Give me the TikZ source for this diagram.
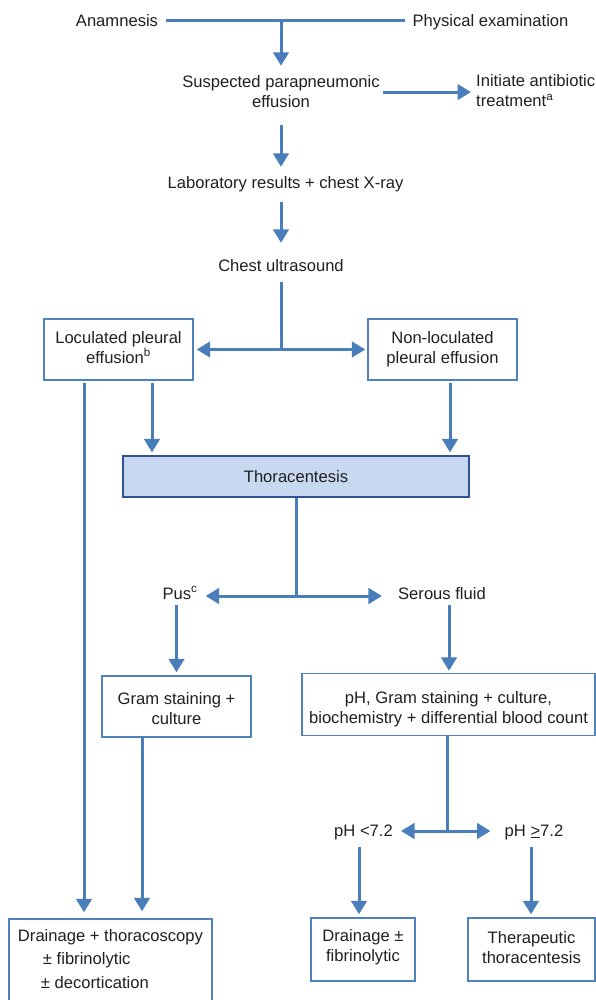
\documentclass[tikz,border=0pt]{standalone}
\usepackage{fontspec}
\setmainfont{Liberation Sans}
\usetikzlibrary{arrows.meta,calc}
\definecolor{lineblue}{RGB}{74,126,187}
\definecolor{boxblue}{RGB}{79,129,189}
\definecolor{thfill}{RGB}{198,217,240}
\definecolor{thdraw}{RGB}{50,80,150}
\definecolor{txtcol}{RGB}{35,31,32}
\newcommand{\TopS}[1]{\rule{0pt}{#1pt}}
\newcommand{\BotS}[1]{\rule[-#1pt]{0pt}{#1pt}}
\begin{document}
\begin{tikzpicture}[x=1pt,y=-1pt,
  lbl/.style={font=\fontsize{16.6pt}{20pt}\selectfont, text=txtcol, inner sep=0pt, text height=12pt, text depth=0pt},
  mlbl/.style={font=\fontsize{16.6pt}{20pt}\selectfont, text=txtcol, inner sep=0pt, align=center},
  box/.style={draw=boxblue, line width=1.4pt, font=\fontsize{16.6pt}{20pt}\selectfont, text=txtcol, inner sep=0pt, align=center},
  conn/.style={draw=lineblue, line width=3pt},
  arr/.style={conn, -{Triangle[length=13.5pt,width=15.5pt]}},
]
\fill[white] (0,0) rectangle (596,1000);
\useasboundingbox (0,0) rectangle (596,1000);

% top
\node[lbl] (anam) at (117,20.7) {Anamnesis};
\node[lbl] (phys) at (490.5,20.7) {Physical examination};
\coordinate (j1) at (281,20.7);
\draw[conn, shorten <=8pt, shorten >=7pt] (anam.east) -- (phys.west);

\node[mlbl, anchor=base] (susp) at (281,108) {Suspected parapneumonic\\effusion};
\draw[arr, shorten >=10pt] (j1) -- (susp.north);

\node[mlbl, anchor=base west, align=left] (init) at (476,107) {Initiate antibiotic\\treatment\textsuperscript{a}};
\draw[arr, shorten <=3pt, shorten >=5pt] (susp.east) -- (susp.east -| init.west);

\node[lbl] (lab) at (285.5,183) {Laboratory results + chest X-ray};
\draw[arr, shorten <=17pt, shorten >=10pt] (susp.south) -- (susp.south |- lab.north);

\node[lbl] (ultra) at (281,265) {Chest ultrasound};
\draw[arr, shorten <=13pt, shorten >=16pt] (lab.south -| ultra.north) -- (ultra.north);

% effusion type
\node[box, minimum width=149pt, minimum height=61pt] (loc) at (118.5,349.5) {Loculated pleural\\effusion\textsuperscript{b}\BotS{4.5}};
\node[box, minimum width=149pt, minimum height=61pt] (nonloc) at (442.5,349.5) {Non-loculated\\pleural effusion\BotS{4.5}};
\coordinate (j2) at (281,349.5);
\draw[conn, shorten <=11pt] (ultra.south) -- (j2);
\draw[arr, shorten >=3pt] (j2) -- (loc.east);
\draw[arr, shorten >=2pt] (j2) -- (nonloc.west);

% thoracentesis
\node[box, draw=thdraw, fill=thfill, line width=1.2pt, minimum width=346pt, minimum height=41pt, text height=12pt, text depth=0pt] (thora) at (296,476.5) {Thoracentesis};
\draw[arr, shorten <=2pt, shorten >=3pt] ([xshift=33.5pt]loc.south) -- ([xshift=33.5pt]loc.south |- thora.north);
\draw[arr, shorten <=2pt, shorten >=3pt] ([xshift=7.5pt]nonloc.south) -- ([xshift=7.5pt]nonloc.south |- thora.north);

% pus / serous
\node[lbl] (pus) at (180,593) {Pus\textsuperscript{c}};
\node[lbl] (serous) at (442,593) {Serous fluid};
\coordinate (j3) at (296,596);
\draw[conn] (thora.south) -- (j3);
\draw[arr, shorten >=8pt] (j3) -- (j3 -| pus.east);
\draw[arr, shorten >=16pt] (j3) -- (j3 -| serous.west);

\node[box, minimum width=149pt, minimum height=61pt] (gram) at (176.5,706.5) {\TopS{15.6}Gram staining +\\culture};
\draw[arr, shorten <=6pt, shorten >=3pt] ([xshift=-3.5pt]pus.south) -- ([xshift=-3.5pt]pus.south |- gram.north);

\node[box, minimum width=293pt, minimum height=62pt] (phbox) at (448.5,704.5) {\TopS{21}pH, Gram staining + culture,\\biochemistry + differential blood count};
\draw[arr, shorten <=6pt, shorten >=2pt] ([xshift=7pt]serous.south) -- ([xshift=7pt]serous.south |- phbox.north);

% pH split
\node[lbl] (phlt) at (363.5,830) {pH <7.2};
\node[lbl] (phge) at (534,830) {pH \underline{>}7.2};
\coordinate (j4) at (447,831);
\draw[conn] ([xshift=-1.5pt]phbox.south) -- (j4);
\draw[arr, shorten >=8pt] (j4) -- (j4 -| phlt.east);
\draw[arr, shorten >=14pt] (j4) -- (j4 -| phge.west);

% bottom boxes
\node[box, minimum width=203pt, minimum height=91pt, align=left, font=\fontsize{16.6pt}{23.5pt}\selectfont] (drain) at (110.5,964.5) {\TopS{12}Drainage + thoracoscopy\\\hspace*{25pt}± fibrinolytic\\\hspace*{23pt}± decortication\BotS{12}};
\draw[arr, shorten <=2pt, shorten >=6pt] ([xshift=-34.5pt]loc.south) -- ([xshift=-34.5pt]loc.south |- drain.north);
\draw[arr, shorten >=7pt] ([xshift=-34.5pt]gram.south) -- ([xshift=-34.5pt]gram.south |- drain.north);

\node[box, minimum width=104pt, minimum height=63pt] (drfib) at (363,949.5) {Drainage ±\\fibrinolytic\BotS{9}};
\node[box, minimum width=127pt, minimum height=63pt] (thera) at (531.5,949.5) {Therapeutic\\thoracentesis\BotS{5}};
\draw[arr, shorten <=11pt, shorten >=3pt] ([xshift=-4.5pt]phlt.south) -- ([xshift=-4.5pt]phlt.south |- drfib.north);
\draw[arr, shorten <=11pt, shorten >=3pt] ([xshift=-3pt]phge.south) -- ([xshift=-3pt]phge.south |- thera.north);
\end{tikzpicture}
\end{document}
